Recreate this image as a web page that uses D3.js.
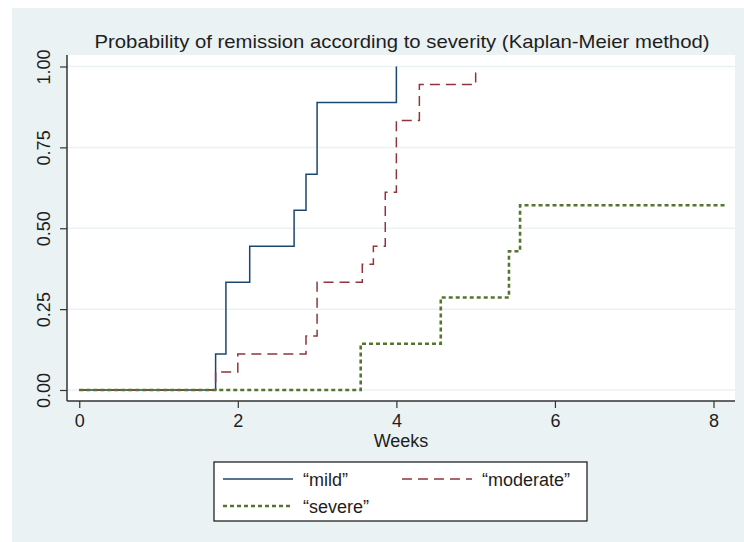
<!DOCTYPE html>
<html>
<head>
<meta charset="utf-8">
<script src="https://cdn.jsdelivr.net/npm/d3@7"></script>
<style>
  html, body { margin: 0; padding: 0; background: #ffffff; }
  svg { display: block; font-family: "Liberation Sans", Arial, sans-serif; }
</style>
</head>
<body>
<svg id="chart" width="744" height="542"></svg>
<script>
// ---- data ----
const seriesNames = ["\u201cmild\u201d", "\u201cmoderate\u201d", "\u201csevere\u201d"];
const mildTimes = [0, 1.72, 1.85, 2.15, 2.71, 2.86, 3.0, 4.0];
const mildProb  = [0, 0.111, 0.333, 0.444, 0.556, 0.667, 0.889, 1.0];
const moderateTimes = [0, 1.72, 2.0, 2.86, 3.0, 3.57, 3.71, 3.86, 4.0, 4.29, 5.0];
const moderateProb  = [0, 0.056, 0.111, 0.167, 0.333, 0.389, 0.444, 0.611, 0.833, 0.944, 1.0];
const severeTimes = [0, 3.55, 4.56, 5.42, 5.56, 8.15];
const severeProb  = [0, 0.143, 0.286, 0.429, 0.571, 0.571];
const xTicks = [0, 2, 4, 6, 8];
const yTicks = [0, 0.25, 0.5, 0.75, 1];
const titleText = "Probability of remission according to severity (Kaplan-Meier method)";
const xLabel = "Weeks";

// ---- layout ----
const svg = d3.select("#chart");
const plotL = 67, plotR = 735, plotT = 55, plotB = 401;
const x = d3.scaleLinear().domain([0, 8]).range([79.25, 713.5]);
const y = d3.scaleLinear().domain([0, 1]).range([390, 66.5]);

// background panel
svg.append("rect").attr("x", 12).attr("y", 8).attr("width", 732).attr("height", 534).attr("fill", "#eaf2f3");
// plot area
svg.append("rect").attr("x", plotL).attr("y", plotT).attr("width", plotR - plotL).attr("height", plotB - plotT).attr("fill", "#ffffff");

// gridlines
svg.append("g").selectAll("line").data(yTicks).join("line")
  .attr("x1", plotL).attr("x2", plotR)
  .attr("y1", d => y(d)).attr("y2", d => y(d))
  .attr("stroke", "#eaf2f3").attr("stroke-width", 1.5);

// title
svg.append("text").attr("x", 402).attr("y", 48).attr("text-anchor", "middle")
  .attr("font-size", 18.5).attr("fill", "#1e1e1e")
  .attr("textLength", 615).attr("lengthAdjust", "spacingAndGlyphs")
  .text(titleText);

// axes
const yAxis = d3.axisLeft(y).tickValues(yTicks).tickFormat(d3.format(".2f")).tickSize(7).tickSizeOuter(0);
const yG = svg.append("g").attr("transform", `translate(${plotL},0)`).call(yAxis);
yG.select(".domain").remove();
yG.selectAll(".tick line").attr("stroke", "#333").attr("stroke-width", 1.2);
yG.selectAll(".tick text")
  .attr("font-size", 18).attr("fill", "#1e1e1e").attr("font-family", "Liberation Sans, Arial, sans-serif")
  .attr("transform", "rotate(-90)")
  .attr("x", 0).attr("y", -17).attr("dy", 0).attr("text-anchor", "middle");

const xAxis = d3.axisBottom(x).tickValues(xTicks).tickFormat(d3.format("d")).tickSize(7).tickSizeOuter(0);
const xG = svg.append("g").attr("transform", `translate(0,${plotB})`).call(xAxis);
xG.select(".domain").remove();
xG.selectAll(".tick line").attr("stroke", "#333").attr("stroke-width", 1.2);
xG.selectAll(".tick text").attr("font-size", 18).attr("fill", "#1e1e1e")
  .attr("font-family", "Liberation Sans, Arial, sans-serif").attr("y", 13).attr("dy", "0.71em");

// axis lines
svg.append("line").attr("x1", plotL).attr("x2", plotL).attr("y1", plotT).attr("y2", plotB)
  .attr("stroke", "#333").attr("stroke-width", 1.5);
svg.append("line").attr("x1", plotL).attr("x2", plotR).attr("y1", plotB).attr("y2", plotB)
  .attr("stroke", "#333").attr("stroke-width", 1.5);

// x label
svg.append("text").attr("x", 401).attr("y", 447).attr("text-anchor", "middle")
  .attr("font-size", 18).attr("fill", "#1e1e1e").text(xLabel);

// curves
const styles = [
  { color: "#1a476f", dash: null, width: 1.5 },
  { color: "#90353b", dash: "10,6", width: 1.5 },
  { color: "#55752f", dash: "4,3", width: 2.6 }
];
const seriesData = [
  d3.zip(mildTimes, mildProb),
  d3.zip(moderateTimes, moderateProb),
  d3.zip(severeTimes, severeProb)
];
const line = d3.line().x(d => x(d[0])).y(d => y(d[1])).curve(d3.curveStepAfter);
seriesData.forEach((data, i) => {
  svg.append("path").datum(data).attr("d", line)
    .attr("fill", "none").attr("stroke", styles[i].color)
    .attr("stroke-width", styles[i].width)
    .attr("stroke-dasharray", styles[i].dash);
});

// legend
svg.append("rect").attr("x", 214).attr("y", 462).attr("width", 373).attr("height", 59)
  .attr("fill", "#ffffff").attr("stroke", "#111").attr("stroke-width", 1.2);
const legendPos = [
  { lx: 223, ly: 479, tx: 303 },
  { lx: 402, ly: 479, tx: 482 },
  { lx: 223, ly: 506, tx: 303 }
];
legendPos.forEach((p, i) => {
  svg.append("line").attr("x1", p.lx).attr("x2", p.lx + 70).attr("y1", p.ly).attr("y2", p.ly)
    .attr("stroke", styles[i].color).attr("stroke-width", styles[i].width)
    .attr("stroke-dasharray", styles[i].dash);
  svg.append("text").attr("x", p.tx).attr("y", p.ly + 6.5).attr("font-size", 18)
    .attr("fill", "#1e1e1e").text(seriesNames[i]);
});
</script>
</body>
</html>
